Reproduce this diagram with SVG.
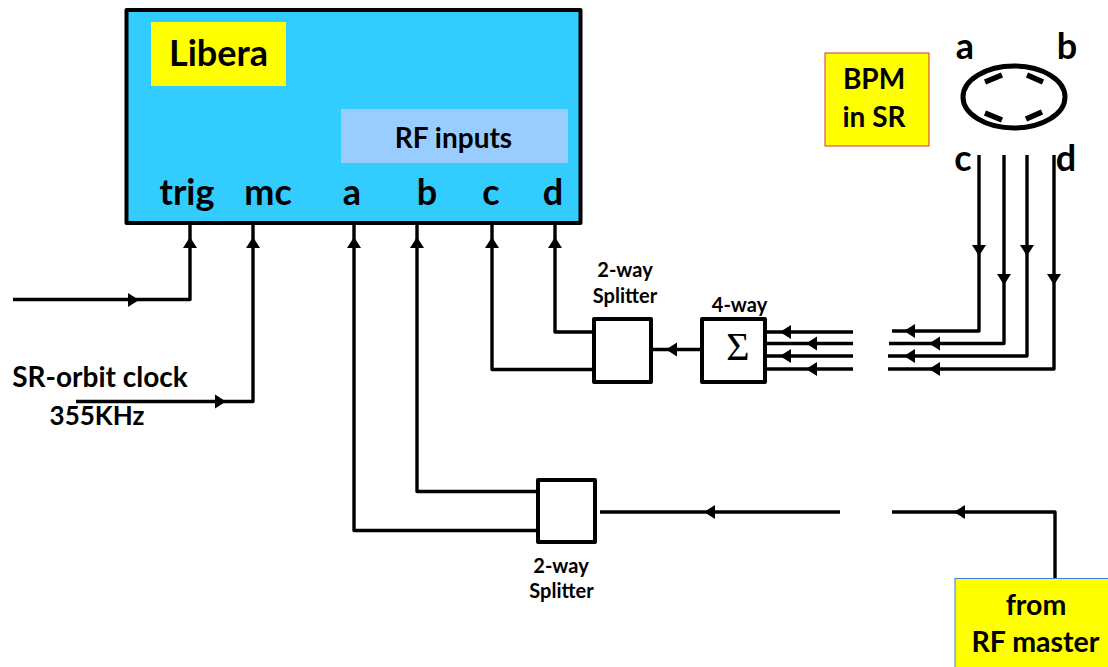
<svg xmlns="http://www.w3.org/2000/svg" width="1108" height="667" viewBox="0 0 1108 667">
<style>
text{font-family:"Lato","Open Sans","Liberation Sans",sans-serif;font-weight:700;fill:#000;text-anchor:middle}
.big{font-size:36px}
.mid{font-size:28px}
.small{font-size:20px}
.rf{font-size:28.500px}
.wire{fill:none;stroke:#000;stroke-width:3.4;stroke-linejoin:round}
.box{fill:#fff;stroke:#000;stroke-width:4;stroke-linejoin:round}
.el{stroke:#000;stroke-width:5.500;fill:none}
</style>
<defs><path id="ah" d="M0 0L-11 -7V7Z" fill="#000"/></defs>
<rect width="1108" height="667" fill="#fff"/>
<g id="connectors">
<path class="wire" d="M13 299.500H190V224"/>
<path class="wire" d="M76 401.500H253V224"/>
<path class="wire" d="M537 530.500H354V224"/>
<path class="wire" d="M537 491.500H417V224"/>
<path class="wire" d="M594 369.500H492V224"/>
<path class="wire" d="M594 332H555V224"/>
<path class="wire" d="M702 349.500H651"/>
<path class="wire" d="M853 332H765M853 343.500H765M853 356H765M853 369H765"/>
<path class="wire" d="M979 155V331H892M1004 155V343.500H889M1027 155V356H888M1054 155V369H888"/>
<path class="wire" d="M840 512H600M1055 578V512H892"/>
<use href="#ah" transform="translate(139,300)"/>
<use href="#ah" transform="translate(226,401.500)"/>
<use href="#ah" transform="translate(190,237) rotate(-90)"/>
<use href="#ah" transform="translate(253,237) rotate(-90)"/>
<use href="#ah" transform="translate(354,237) rotate(-90)"/>
<use href="#ah" transform="translate(417,237) rotate(-90)"/>
<use href="#ah" transform="translate(492,237) rotate(-90)"/>
<use href="#ah" transform="translate(555,237) rotate(-90)"/>
<use href="#ah" transform="translate(666,349.500) rotate(180)"/>
<use href="#ah" transform="translate(780,332) rotate(180)"/>
<use href="#ah" transform="translate(806,343.500) rotate(180)"/>
<use href="#ah" transform="translate(780,356) rotate(180)"/>
<use href="#ah" transform="translate(806,369) rotate(180)"/>
<use href="#ah" transform="translate(904,331) rotate(180)"/>
<use href="#ah" transform="translate(929,343.500) rotate(180)"/>
<use href="#ah" transform="translate(904,356) rotate(180)"/>
<use href="#ah" transform="translate(929,369) rotate(180)"/>
<use href="#ah" transform="translate(979,256) rotate(90)"/>
<use href="#ah" transform="translate(1004,285) rotate(90)"/>
<use href="#ah" transform="translate(1027,256) rotate(90)"/>
<use href="#ah" transform="translate(1054,285) rotate(90)"/>
<use href="#ah" transform="translate(704,512) rotate(180)"/>
<use href="#ah" transform="translate(954,512) rotate(180)"/>
</g>
<g id="libera">
<rect x="126.500" y="10" width="454" height="213" fill="#33ccff" stroke="#000" stroke-width="4" stroke-linejoin="round"/>
<rect x="151" y="22" width="135" height="64" fill="#ffff00"/>
<text x="218.500" y="66" style="font-size:36px">Libera</text>
<rect x="341" y="109" width="227" height="54" fill="#99ccff"/>
<text x="453.500" y="148" style="font-size:28px">RF inputs</text>
<text class="big" x="187" y="205">trig</text>
<text class="big" x="268" y="205">mc</text>
<text class="big" x="352" y="205">a</text>
<text class="big" x="427" y="205">b</text>
<text class="big" x="491" y="205">c</text>
<text class="big" x="553" y="205">d</text>
</g>
<g id="bpm-label">
<rect x="825" y="53" width="104" height="93" fill="#ffff00" stroke="#e03030" stroke-width="1"/>
<text class="mid" x="874" y="89">BPM</text>
<text class="mid" x="874" y="127">in SR</text>
</g>
<g id="bpm">
<ellipse cx="1014" cy="97" rx="51" ry="31" fill="#fff" stroke="#000" stroke-width="5"/>
<path class="el" d="M985 82L1002 75M1027 75L1043 82M985 113L1002 120M1026 119L1042 112"/>
<text class="big" x="965" y="59">a</text>
<text class="big" x="1067" y="59">b</text>
<text class="big" x="963" y="171">c</text>
<text class="big" x="1066" y="171">d</text>
</g>
<g id="splitter-top">
<rect class="box" x="594" y="319" width="57" height="63"/>
<text class="small" x="625" y="277">2-way</text>
<text class="small" x="625" y="303">Splitter</text>
</g>
<g id="sum">
<rect class="box" x="702" y="319" width="63" height="63"/>
<text x="738" y="360" style="font-family:'Liberation Serif',serif;font-weight:400;font-size:40px">Σ</text>
<text class="small" x="739.500" y="312">4-way</text>
</g>
<g id="splitter-bottom">
<rect class="box" x="538" y="480" width="57" height="62"/>
<text class="small" x="561" y="573">2-way</text>
<text class="small" x="561.500" y="598">Splitter</text>
</g>
<g id="clock-label">
<text x="100" y="387" style="font-size:28px">SR-orbit clock</text>
<text x="97" y="425" style="font-size:26px">355KHz</text>
</g>
<g id="rf-master">
<rect x="955" y="578.500" width="160" height="95" fill="#ffff00" stroke="#3a7fd0" stroke-width="1"/>
<text class="rf" x="1036" y="615">from</text>
<text class="rf" x="1035.500" y="652">RF master</text>
</g>
</svg>
